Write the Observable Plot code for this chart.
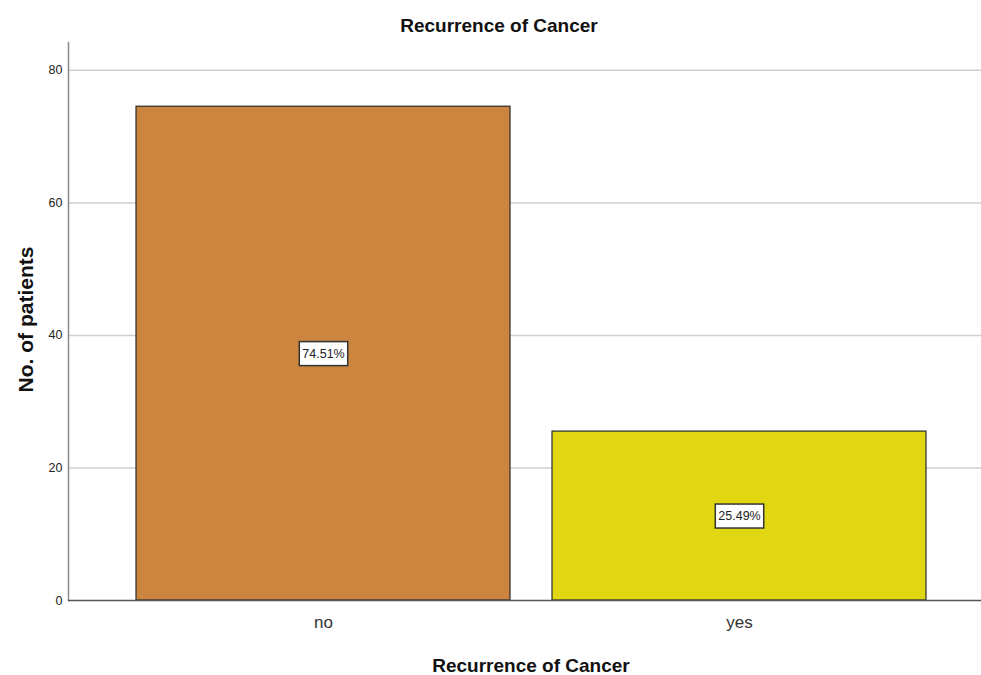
<!DOCTYPE html>
<html>
<head>
<meta charset="utf-8">
<script src="https://cdn.jsdelivr.net/npm/d3@7"></script>
<script src="https://cdn.jsdelivr.net/npm/@observablehq/plot@0.6"></script>
<style>
  body { margin: 0; background: #fff; }
  svg { font-family: "Liberation Sans", Arial, sans-serif; }
</style>
</head>
<body>
<div id="chart"></div>
<script>
const categories = ["no", "yes"];
const counts = [74.51, 25.49];
const percentLabels = ["74.51%", "25.49%"];
const barColors = ["#CC853F", "#E0D712"];
const yTicks = [0, 20, 40, 60, 80];
const title = "Recurrence of Cancer";
const xLabel = "Recurrence of Cancer";
const yLabel = "No. of patients";

const data = categories.map((c, i) => ({cat: c, value: counts[i], label: percentLabels[i]}));

const chart = Plot.plot({
  width: 981,
  height: 675,
  marginTop: 42,
  marginBottom: 75,
  marginLeft: 68,
  marginRight: 0,
  style: {fontFamily: "'Liberation Sans', Arial, sans-serif", background: "#fff"},
  x: {domain: categories, range: [115, 947], paddingInner: 0.1, paddingOuter: 0.05, axis: null},
  y: {domain: [0, 84.2], axis: null},
  color: {domain: categories, range: barColors},
  marks: [
    Plot.ruleY(yTicks.filter(d => d > 0), {stroke: "#cfcfcf", strokeWidth: 1.5}),
    Plot.barY(data, {x: "cat", y: "value", fill: "cat", stroke: "#2a2a2a", strokeWidth: 1.2}),
    Plot.frame({anchor: "left", stroke: "#8a8a8a", strokeWidth: 1.5}),
    Plot.ruleY([0], {stroke: "#555", strokeWidth: 1.5}),
    Plot.axisY(yTicks, {tickSize: 0, tickPadding: 6, fontSize: 12.5, fill: "#222", label: null}),
    Plot.axisX({tickSize: 0, tickPadding: 15, fontSize: 17, fill: "#333", label: null}),
    Plot.text(data, {x: "cat", y: d => d.value / 2, text: "label", fontSize: 12.5, fill: "#222", className: "pct"}),
    Plot.text([title], {frameAnchor: "top", dx: -26, dy: -17, lineAnchor: "middle", fontSize: 19, fontWeight: "bold", fill: "#111"}),
    Plot.text([xLabel], {frameAnchor: "bottom", dx: 6, dy: 65, lineAnchor: "middle", fontSize: 19, fontWeight: "bold", fill: "#111"}),
    Plot.text([yLabel], {frameAnchor: "left", dx: -42, dy: -2, rotate: -90, textAnchor: "middle", fontSize: 21, fontWeight: "bold", fill: "#111"})
  ]
});
document.getElementById("chart").appendChild(chart);

// white boxes with dark borders behind the percentage labels
d3.select(chart).selectAll("g.pct text").each(function() {
  const bb = this.getBBox();
  const padX = 3, padY = 5;
  d3.select(this.parentNode).insert("rect", () => this)
    .attr("transform", this.getAttribute("transform"))
    .attr("x", bb.x - padX).attr("y", bb.y - padY)
    .attr("width", bb.width + 2 * padX).attr("height", bb.height + 2 * padY)
    .attr("fill", "#fff").attr("stroke", "#333").attr("stroke-width", 1.5);
});
</script>
</body>
</html>
